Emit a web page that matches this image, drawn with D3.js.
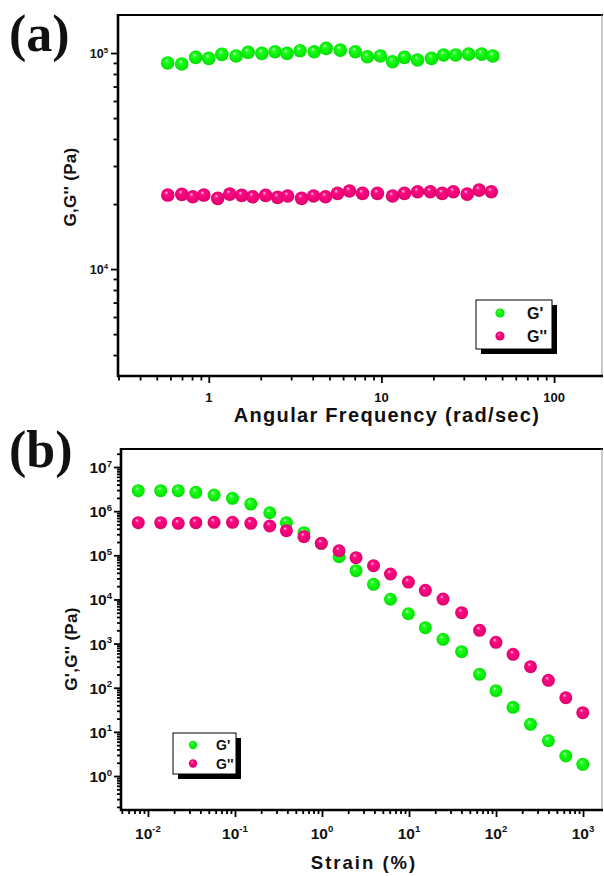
<!DOCTYPE html>
<html><head><meta charset="utf-8">
<script src="https://cdn.jsdelivr.net/npm/d3@7"></script>
<style>body{margin:0;background:#fff}svg{display:block}text{font-family:"Liberation Sans",Arial,sans-serif;font-weight:bold;fill:#111}</style>
</head><body>
<svg id="c" width="604" height="876"></svg>
<script>
// ---------- Panel (a): frequency sweep ----------
const freqGPrimeA = [0.578,0.697,0.840,1.0,1.19,1.44,1.69,2.03,2.42,2.84,3.38,4.08,4.79,5.78,7.06,8.29,9.87,11.6,13.6,16.2,19.5,22.9,26.9,32.0,38.1,44.2];
const gPrimeA = [90000,89000,95500,94500,98600,96900,100700,99700,101400,99700,102500,101400,105100,103200,101400,96100,96900,91200,95500,92800,94500,97900,97900,98900,98900,96900];
const freqGDoublePrimeA = [0.579,0.698,0.808,0.936,1.127,1.322,1.552,1.796,2.135,2.504,2.863,3.449,4.045,4.745,5.57,6.53,7.77,9.48,11.6,13.6,16.2,19.2,22.5,26.1,31.4,36.8,43.3];
const gDoublePrimeA = [22010,22170,21610,22010,21250,22240,21940,21610,21940,21470,21780,21250,21780,21610,22410,22970,22410,22410,21780,22410,22800,22800,22410,22800,22240,23210,22800];
const xTicksA = [1,10,100];
const xTickLabelsA = ["1","10","100"];
const yTickExpA = [4,5];

// ---------- Panel (b): strain sweep ----------
const strainB = [0.00774,0.0140,0.0223,0.0355,0.0575,0.0936,0.152,0.251,0.390,0.620,0.982,1.57,2.46,3.91,6.12,9.84,15.4,24.6,40.2,64.7,99.8,157,249,400,634,993];
const gPrimeB = [2.91e6,2.91e6,2.91e6,2.67e6,2.32e6,1.95e6,1.45e6,9.2e5,5.48e5,3.25e5,1.87e5,9.3e4,4.48e4,2.20e4,1.01e4,4750,2290,1250,655,201,85.5,36.0,14.8,6.3,2.84,1.84];
const gDoublePrimeB = [5.48e5,5.48e5,5.31e5,5.48e5,5.6e5,5.6e5,5.31e5,4.61e5,3.61e5,2.64e5,1.87e5,1.27e5,8.83e4,5.81e4,3.77e4,2.48e4,1.61e4,1.02e4,5010,2000,1070,571,299,147,59.4,27.2];
const xTickExpB = [-2,-1,0,1,2,3];
const yTickExpB = [0,1,2,3,4,5,6,7];

const seriesNames = ["G'", "G''"];

const svg = d3.select("#c");
const defs = svg.append("defs");
function sphereGrad(id, hi, mid, edge){
  const g = defs.append("radialGradient").attr("id", id)
    .attr("cx","0.5").attr("cy","0.5").attr("r","0.55").attr("fx","0.38").attr("fy","0.3");
  g.append("stop").attr("offset","0").attr("stop-color", hi);
  g.append("stop").attr("offset","0.26").attr("stop-color", mid);
  g.append("stop").attr("offset","1").attr("stop-color", edge);
}
sphereGrad("sg","#d8ffd8","#1aff1a","#00dc00");
sphereGrad("sp","#ffd0e8","#ff0a84","#dc006a");
const fills = ["url(#sg)","url(#sp)"];

function minorTicks(domain){
  const out = [];
  const lo = Math.floor(Math.log10(domain[0])), hi = Math.ceil(Math.log10(domain[1]));
  for (let e = lo; e <= hi; e++) for (let m = 2; m <= 9; m++){
    const v = m * Math.pow(10, e);
    if (v >= domain[0] && v <= domain[1]) out.push(v);
  }
  return out;
}
function majorTicks(domain){
  const out = [];
  const lo = Math.ceil(Math.log10(domain[0])-1e-9), hi = Math.floor(Math.log10(domain[1])+1e-9);
  for (let e = lo; e <= hi; e++) out.push(Math.pow(10, e));
  return out;
}
function powLabel(sel, exp, baseSize, supSize, supDy){
  sel.append("tspan").text("10").attr("font-size", baseSize);
  sel.append("tspan").text(String(exp)).attr("font-size", supSize).attr("dy", -supDy);
}

function drawPanel(o){
  const g = svg.append("g");
  const x = d3.scaleLog().domain(o.xDomain).range([o.left, o.right]);
  const y = d3.scaleLog().domain(o.yDomain).range([o.bottom, o.top]);

  // frame: top and right
  g.append("line").attr("x1", o.left).attr("x2", o.right+2).attr("y1", o.top).attr("y2", o.top)
    .attr("stroke","#000").attr("stroke-width",2.2);
  g.append("line").attr("x1", o.right+1).attr("x2", o.right+1).attr("y1", o.top).attr("y2", o.bottom)
    .attr("stroke","#999").attr("stroke-width",1);

  // y axis
  const yMinor = g.append("g").attr("transform",`translate(${o.left},0)`)
    .call(d3.axisLeft(y).tickValues(minorTicks(o.yDomain)).tickSize(o.minorLen).tickFormat(""));
  const yMajor = g.append("g").attr("transform",`translate(${o.left},0)`)
    .call(d3.axisLeft(y).tickValues(majorTicks(o.yDomain)).tickSize(o.majorLen).tickSizeOuter(0).tickFormat(""));
  // x axis
  const xMinor = g.append("g").attr("transform",`translate(0,${o.bottom})`)
    .call(d3.axisBottom(x).tickValues(minorTicks(o.xDomain)).tickSize(o.minorLen).tickFormat(""));
  const xMajor = g.append("g").attr("transform",`translate(0,${o.bottom})`)
    .call(d3.axisBottom(x).tickValues(majorTicks(o.xDomain)).tickSize(o.majorLen).tickSizeOuter(0).tickFormat(""));
  [yMinor,yMajor,xMinor,xMajor].forEach(a=>{
    a.selectAll(".tick line").attr("stroke","#000").attr("stroke-width",1.8);
    a.select(".domain").attr("stroke","#000").attr("stroke-width",2.6);
  });
  yMinor.select(".domain").attr("d", `M0,${o.top-1}V${o.bottom+1}`);
  xMinor.select(".domain").attr("d", `M${o.left-1},0H${o.right+2}`);
  yMajor.select(".domain").remove(); xMajor.select(".domain").remove();

  // tick labels
  o.yLabels.forEach(e=>{
    const t = g.append("text").attr("x", o.left - o.yLabelGap).attr("y", y(Math.pow(10,e)) + o.yLabelDy)
      .attr("text-anchor","end");
    powLabel(t, e, o.yLabelSize, o.yLabelSize*0.62, o.yLabelSize*0.42);
  });
  o.xLabels.forEach(d=>{
    const t = g.append("text").attr("x", x(d.v)).attr("y", o.bottom + o.xLabelDy).attr("text-anchor","middle");
    if (d.exp !== undefined) powLabel(t, d.exp, o.xLabelSize, o.xLabelSize*0.62, o.xLabelSize*0.42);
    else t.attr("font-size", o.xLabelSize).text(d.label);
  });

  // titles
  g.append("text").attr("x", o.xTitle.x).attr("y", o.xTitle.y).attr("text-anchor","middle")
    .attr("font-size", o.xTitle.size).attr("letter-spacing", o.xTitle.ls).text(o.xTitle.text);
  g.append("text").attr("transform",`translate(${o.yTitle.x},${o.yTitle.y}) rotate(-90)`).attr("text-anchor","middle")
    .attr("font-size", o.yTitle.size).attr("letter-spacing", o.yTitle.ls).text(o.yTitle.text);

  // panel letter
  g.append("text").attr("x", o.letter.x).attr("y", o.letter.y).attr("font-size", 52)
    .style("font-family",'"Liberation Serif","Times New Roman",serif').style("font-weight","bold").attr("fill","#000")
    .text(o.letter.text);

  // data
  o.series.forEach((s, i)=>{
    g.append("g").selectAll("circle").data(s.x.map((xv, k)=>[xv, s.y[k]])).join("circle")
      .attr("cx", d=>x(d[0])).attr("cy", d=>y(d[1])).attr("r", o.r).attr("fill", fills[i]);
  });

  // legend
  const L = o.legend;
  g.append("rect").attr("x", L.x+5).attr("y", L.y+5).attr("width", L.w).attr("height", L.h).attr("fill","#000");
  g.append("rect").attr("x", L.x).attr("y", L.y).attr("width", L.w).attr("height", L.h)
    .attr("fill","#fff").attr("stroke","#000").attr("stroke-width",1);
  seriesNames.forEach((n,i)=>{
    const cy = L.y + L.row0 + i*L.rowGap;
    g.append("circle").attr("cx", L.x + L.mx).attr("cy", cy).attr("r", L.r).attr("fill", fills[i]);
    g.append("text").attr("x", L.x + L.tx).attr("y", cy + L.size*0.36).attr("font-size", L.size).text(n);
  });
}

drawPanel({
  left:118, right:601, top:15, bottom:376,
  xDomain:[0.298,187], yDomain:[3200,1.5e5],
  majorLen:7, minorLen:4.5,
  yLabels:yTickExpA, yLabelGap:10, yLabelDy:5, yLabelSize:12.5,
  xLabels:xTicksA.map((v,i)=>({v, label:xTickLabelsA[i]})), xLabelDy:26, xLabelSize:13,
  xTitle:{x:387, y:422, size:20, ls:1.3, text:"Angular Frequency (rad/sec)"},
  yTitle:{x:76, y:187, size:17, ls:0.3, text:"G,G'' (Pa)"},
  letter:{x:9, y:51, text:"(a)"},
  r:6.8,
  series:[{x:freqGPrimeA, y:gPrimeA},{x:freqGDoublePrimeA, y:gDoublePrimeA}],
  legend:{x:476, y:300, w:76, h:49, mx:24, tx:51, row0:13, rowGap:23, r:4.6, size:16}
});

drawPanel({
  left:121, right:601, top:449, bottom:810,
  xDomain:[0.0049,1608], yDomain:[0.17,2.56e7],
  majorLen:7, minorLen:4,
  yLabels:yTickExpB, yLabelGap:9, yLabelDy:6, yLabelSize:15.5,
  xLabels:xTickExpB.map(e=>({v:Math.pow(10,e), exp:e})), xLabelDy:29, xLabelSize:15.5,
  xTitle:{x:364, y:869, size:18.5, ls:2, text:"Strain (%)"},
  yTitle:{x:77, y:649, size:17, ls:0.3, text:"G',G'' (Pa)"},
  letter:{x:9, y:467, text:"(b)"},
  r:6.5,
  series:[{x:strainB, y:gPrimeB},{x:strainB, y:gDoublePrimeB}],
  legend:{x:173, y:733, w:63, h:41, mx:20, tx:43, row0:12, rowGap:18.5, r:4.2, size:14}
});
</script>
</body></html>
